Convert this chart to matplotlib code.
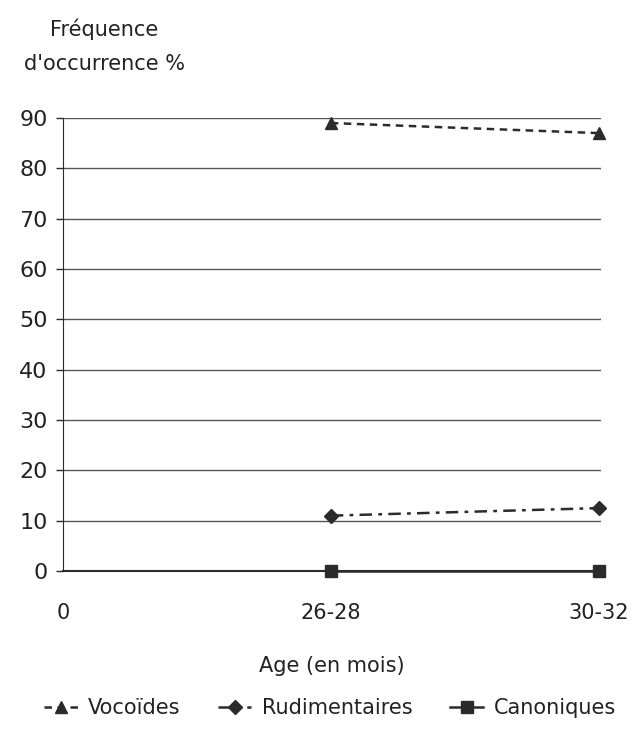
import matplotlib.pyplot as plt

# Donnees
AGES = ["0", "26-28", "30-32"]
X_POS = [1, 2]
VOCOIDES = [89, 87]
RUDIMENTAIRES = [11, 12.5]
CANONIQUES = [0, 0]
Y_TICKS = [0, 10, 20, 30, 40, 50, 60, 70, 80, 90]

plt.rcParams['font.family'] = ['DejaVu Sans']
INK = "#2b2b2b"

fig = plt.figure(figsize=(6.35, 7.32), dpi=100)
ax = fig.add_axes([0.0992, 0.2199, 0.8465, 0.6189])

ax.set_xlim(0, 2.007)
ax.set_ylim(0, 90)

# Lignes horizontales de la grille
for v in Y_TICKS[1:]:
    ax.axhline(v, color="#555555", lw=1.0, zorder=1)

line_v, = ax.plot(X_POS, VOCOIDES, ls=(0, (3, 2.2)), lw=1.8, color=INK,
                  marker="^", ms=9, clip_on=False, zorder=3, label="Vocoïdes")
line_r, = ax.plot(X_POS, RUDIMENTAIRES, ls=(0, (5, 2.5, 1.5, 2.5)), lw=1.8, color=INK,
                  marker="D", ms=7, clip_on=False, zorder=3, label="Rudimentaires")
line_c, = ax.plot(X_POS, CANONIQUES, ls="-", lw=1.8, color=INK,
                  marker="s", ms=9, clip_on=False, zorder=3, label="Canoniques")

ax.spines['top'].set_visible(False)
ax.spines['right'].set_visible(False)
ax.spines['left'].set_color(INK)
ax.spines['bottom'].set_color(INK)
ax.spines['bottom'].set_linewidth(1.5)

ax.set_yticks(Y_TICKS)
ax.set_yticklabels([str(v) for v in Y_TICKS])
ax.set_xticks([0, 1, 2])
ax.set_xticklabels(AGES)
ax.tick_params(axis='y', length=5, width=1, color=INK, labelsize=16, pad=6, labelcolor="#222222")
ax.tick_params(axis='x', length=0, labelsize=15, pad=23, labelcolor="#222222")

ax.set_xlabel("Age (en mois)", fontsize=15, labelpad=24, color="#222222")
fig.text(0.164, 0.937, "Fréquence\nd'occurrence %", ha="center", va="center",
         fontsize=15, linespacing=1.85, color="#222222")

fig.legend(handles=[line_v, line_r, line_c], loc="center", bbox_to_anchor=(0.52, 0.033),
           ncol=3, frameon=False, fontsize=15, handlelength=1.6, handletextpad=0.5,
           columnspacing=1.8, labelcolor="#222222")

fig.savefig("out.png", dpi=100)
